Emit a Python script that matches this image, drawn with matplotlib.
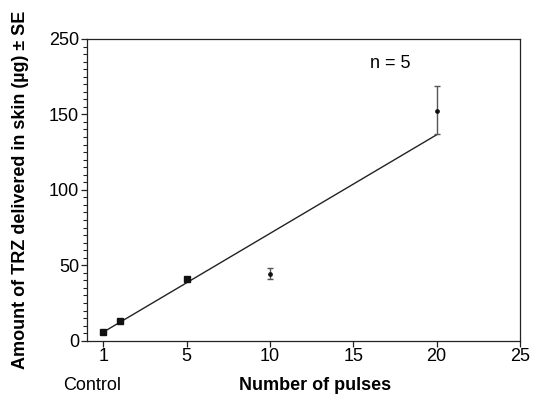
import matplotlib
matplotlib.use("Agg")
import matplotlib.pyplot as plt
from matplotlib.ticker import MultipleLocator

plt.rcParams['font.family'] = ['Liberation Sans', 'DejaVu Sans']

# Data (x = number of pulses, 0 = control)
sq_x = [0, 1, 5]
sq_y = [5.6, 12.9, 40.8]
err_x = [10, 20]
err_y = [44.2, 152.3]
err_lo = [3.5, 15.5]
err_hi = [3.8, 16.3]
fit_x = [0, 20]
fit_y = [5.7, 136.5]
# tick positions and the labels printed on the original chart
x_ticks = [0, 5, 10, 15, 20, 25]
x_tick_labels = ["1", "5", "10", "15", "20", "25"]
y_ticks = [0, 50, 100, 150, 200]
y_tick_labels = ["0", "50", "100", "150", "250"]

fig = plt.figure(figsize=(5.37, 3.99), dpi=100)
ax = fig.add_axes([0.1613, 0.1461, 0.807, 0.7562])

ax.plot(fit_x, fit_y, color='#222222', lw=1.0, zorder=2)
ax.plot(sq_x, sq_y, 's', color='#111111', ms=4, zorder=3)
ax.errorbar(err_x, err_y, yerr=[err_lo, err_hi], fmt='o', color='#111111',
            ms=2.4, ecolor='#555555', elinewidth=1.0, capsize=2.2,
            capthick=1.0, zorder=3)

ax.set_xlim(-1, 25)
ax.set_ylim(0, 200)
ax.set_xticks(x_ticks)
ax.set_xticklabels(x_tick_labels)
ax.set_yticks(y_ticks)
ax.set_yticklabels(y_tick_labels)
ax.yaxis.set_minor_locator(MultipleLocator(5))
ax.tick_params(axis='both', which='major', direction='out', length=4,
               width=0.9, labelsize=13, color='#222222')
ax.tick_params(axis='y', which='minor', direction='out', length=3,
               width=0.8, color='#222222')
ax.tick_params(axis='x', pad=1.5)
ax.tick_params(axis='y', pad=1.5)
for s in ax.spines.values():
    s.set_linewidth(0.9)
    s.set_color('#222222')

ax.text(17.2, 184, "n = 5", fontsize=13, ha='center', va='center')

fig.text(0.038, 0.524, "Amount of TRZ delivered in skin (\u00b5g) \u00b1 SE",
         rotation=90, fontsize=13, fontweight='bold', ha='center', va='center')
fig.text(0.586, 0.033, "Number of pulses", fontsize=13, fontweight='bold',
         ha='center', va='center')
fig.text(0.1723, 0.033, "Control", fontsize=13, ha='center', va='center')

fig.savefig("out.png", dpi=100)
